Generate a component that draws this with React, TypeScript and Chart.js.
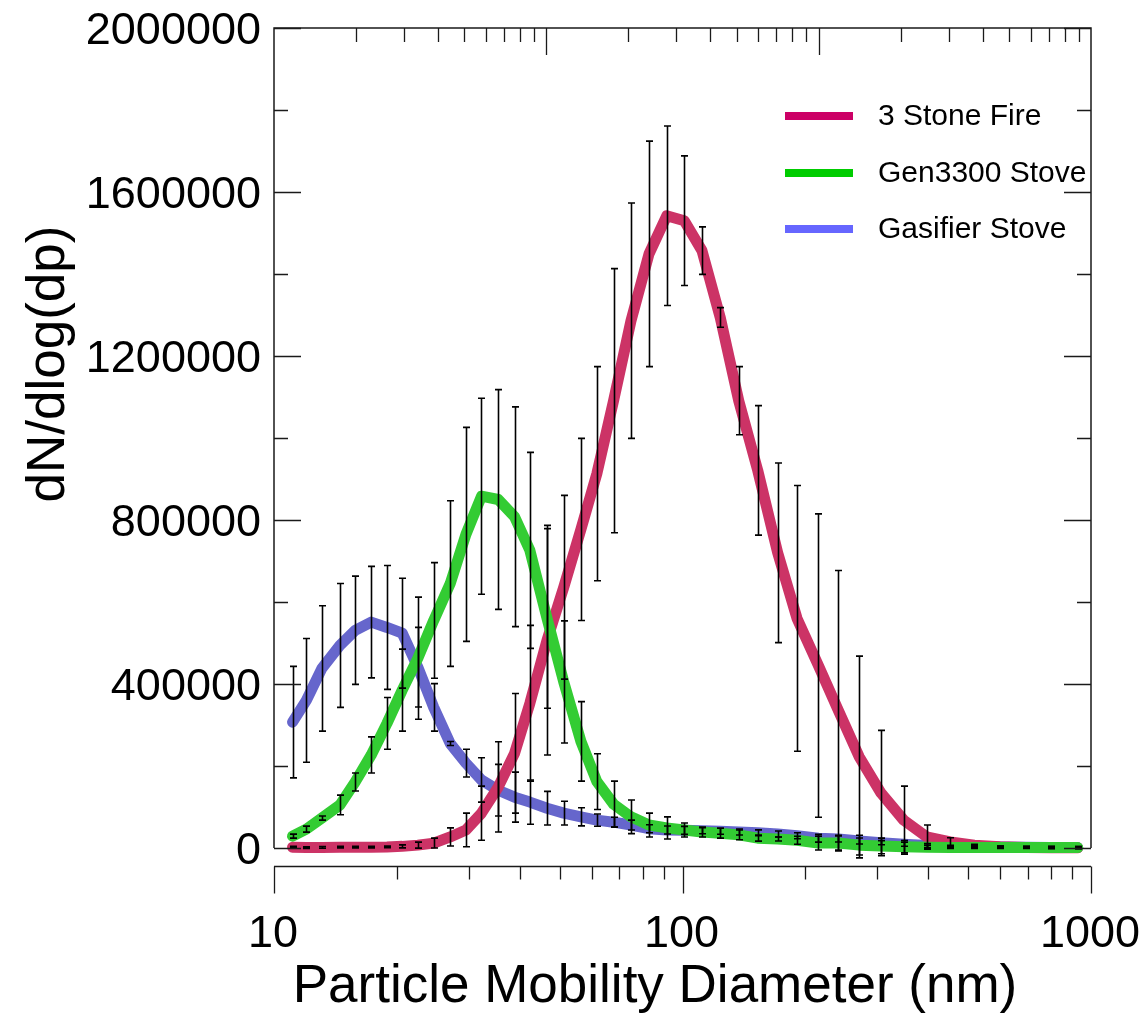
import React, { useEffect, useRef } from "react";
import { Chart, registerables } from "chart.js";

Chart.register(...registerables);

// Particle mobility diameters (nm)
const diameters = [
  11.1, 12.0, 13.1, 14.5, 15.8, 17.3, 18.9, 20.6, 22.5, 24.6, 27.0, 29.5, 32.2, 35.4, 38.8,
  42.3, 46.6, 51.2, 56.4, 61.7, 67.8, 74.8, 82.8, 91.5, 101.0, 111.6, 123.7, 137.3, 152.8,
  171.0, 190.7, 215.1, 240.6, 270.9, 306.2, 347.9, 396.1, 452.5, 518.0, 598.7, 693.3, 798.1, 927.7,
];

// 3 Stone Fire
const stoneFire = [
  2000, 1000, 1500, 2000, 2000, 2000, 2500, 4000, 7000, 12000, 27000, 44000, 85000, 149000, 231000,
  353000, 507000, 636000, 777000, 913000, 1091000, 1286000, 1449000, 1542000, 1530000, 1457000,
  1294000, 1091000, 921000, 720000, 560000, 445000, 336000, 222000, 134000, 68000, 27000, 15000,
  7000, 3000, 1500, 800, 500,
];
const stoneFireErr = [
  2000, 2000, 2000, 2000, 2000, 2000, 2000, 3700, 7300, 12000, 22000, 41000, 66000, 110000, 146000,
  190000, 280000, 224000, 222000, 261000, 322000, 287000, 275000, 219000, 158000, 58000, 24000,
  83000, 158000, 219000, 324000, 370000, 341000, 246000, 153000, 83000, 29000, 10000, 2000, 2000,
  2000, 2000, 2000,
];

// Gen3300 Stove
const gen3300 = [
  29000, 46000, 73000, 105000, 161000, 227000, 304000, 385000, 463000, 555000, 645000, 765000,
  858000, 850000, 808000, 726000, 560000, 405000, 260000, 162000, 107000, 76000, 56000, 49000,
  44000, 39000, 36000, 32000, 24000, 22000, 19000, 12000, 12000, 7000, 5000, 3000, 2000, 1500,
  1000, 1000, 1000, 1000, 1000,
];
const gen3300Err = [
  4900, 7300, 4900, 24000, 22000, 44000, 63000, 100000, 149000, 141000, 202000, 261000, 239000,
  268000, 268000, 239000, 219000, 149000, 97000, 68000, 56000, 41000, 29000, 27000, 17000, 12000,
  12000, 12000, 7300, 4900, 9700, 17000, 19000, 24000, 19000, 15000, 4900, 2400, 2400, 2400, 2400,
  2400, 2400,
];

// Gasifier Stove
const gasifier = [
  307000, 360000, 438000, 494000, 531000, 551000, 538000, 524000, 441000, 343000, 255000, 207000,
  166000, 141000, 124000, 112000, 97000, 85000, 76000, 68000, 63000, 56000, 47000, 44000, 43000,
  42000, 41000, 39000, 37000, 34000, 30000, 24000, 22000, 17000, 13000, 9000, 6000, 4000, 3000,
  2500, 2000, 1500, 1000,
];
const gasifierErr = [
  136000, 151000, 153000, 151000, 132000, 136000, 151000, 134000, 97000, 58000, 4900, 34000, 54000,
  63000, 61000, 54000, 41000, 29000, 22000, 15000, 12000, 12000, 9700, 9700, 9700, 7300, 7300, 7300,
  7300, 7300, 7300, 9700, 7300, 7300, 4900, 4900, 4900, 2400, 2400, 2400, 2400, 2400, 2400,
];

const seriesNames = ["3 Stone Fire", "Gen3300 Stove", "Gasifier Stove"];
const yTickValues = [0, 400000, 800000, 1200000, 1600000, 2000000];
const xTickLabels = [10, 100, 1000];
const xTitle = "Particle Mobility Diameter (nm)";
const yTitle = "dN/dlog(dp)";

const lineColors = ["#cc3366", "#33cc33", "#6666cc"];
const legendColors = ["#cc0066", "#00cc00", "#6666ff"];

const FONT = '"Liberation Sans", Arial, Helvetica, sans-serif';

export default function App() {
  const ref = useRef<HTMLCanvasElement>(null);

  useEffect(() => {
    const canvas = ref.current!;
    const values = [stoneFire, gen3300, gasifier];
    const errors = [stoneFireErr, gen3300Err, gasifierErr];
    const orders = [2, 1, 3];

    const customPlugin = {
      id: "customAxes",
      afterDatasetsDraw(chart: any) {
        const { ctx, scales } = chart;
        const x = scales.x;
        const y = scales.y;
        ctx.save();
        ctx.strokeStyle = "#000";
        ctx.lineWidth = 1.6;
        for (let s = 0; s < values.length; s++) {
          const vals = values[s];
          const errs = errors[s];
          for (let i = 0; i < diameters.length; i++) {
            const px = Math.round(x.getPixelForValue(diameters[i])) + 0.5;
            const top = y.getPixelForValue(vals[i] + errs[i]);
            const bot = y.getPixelForValue(vals[i] - errs[i]);
            ctx.beginPath();
            ctx.moveTo(px, top);
            ctx.lineTo(px, bot);
            ctx.moveTo(px - 3.5, top);
            ctx.lineTo(px + 3.5, top);
            ctx.moveTo(px - 3.5, bot);
            ctx.lineTo(px + 3.5, bot);
            ctx.stroke();
          }
        }
        ctx.restore();
      },
      afterDraw(chart: any) {
        const { ctx, chartArea: a, scales } = chart;
        const x = scales.x;
        const y = scales.y;
        const xTop = scales.xTop;
        ctx.save();
        ctx.strokeStyle = "#1a1a1a";
        ctx.lineWidth = 1.5;

        // frame: top, left, right
        ctx.beginPath();
        ctx.moveTo(a.left, a.bottom);
        ctx.lineTo(a.left, a.top);
        ctx.lineTo(a.right, a.top);
        ctx.lineTo(a.right, a.bottom);
        ctx.stroke();

        // y ticks (left and right, inward)
        ctx.lineWidth = 1.3;
        for (let v = 0; v <= 2000000; v += 200000) {
          const py = Math.round(y.getPixelForValue(v)) + 0.5;
          const major = v % 400000 === 0;
          const len = major ? 27 : 14;
          ctx.beginPath();
          ctx.moveTo(a.left, py);
          ctx.lineTo(a.left + len, py);
          ctx.moveTo(a.right, py);
          ctx.lineTo(a.right - len, py);
          ctx.stroke();
        }

        // top ticks (log 1..1000, inward)
        for (const dec of [1, 10, 100]) {
          for (let m = 1; m <= 9; m++) {
            const v = dec * m;
            if (v === 1) continue;
            const px = Math.round(xTop.getPixelForValue(v)) + 0.5;
            const len = m === 1 ? 27 : 14;
            ctx.beginPath();
            ctx.moveTo(px, a.top);
            ctx.lineTo(px, a.top + len);
            ctx.stroke();
          }
        }

        // bottom detached x axis
        const axisY = a.bottom + 18.5;
        const x0 = x.getPixelForValue(10);
        const x1 = x.getPixelForValue(1000);
        ctx.lineWidth = 1.5;
        ctx.beginPath();
        ctx.moveTo(x0, axisY);
        ctx.lineTo(x1, axisY);
        ctx.stroke();
        ctx.lineWidth = 1.3;
        for (const dec of [10, 100, 1000]) {
          for (let m = 1; m <= 9; m++) {
            const v = dec * m;
            if (v > 1000) break;
            const px = Math.round(x.getPixelForValue(v)) + 0.5;
            const len = m === 1 ? 27 : 13;
            ctx.beginPath();
            ctx.moveTo(px, axisY);
            ctx.lineTo(px, axisY + len);
            ctx.stroke();
          }
        }

        // tick labels
        ctx.fillStyle = "#000";
        ctx.font = `45px ${FONT}`;
        ctx.textAlign = "right";
        ctx.textBaseline = "alphabetic";
        for (const v of yTickValues) {
          const py = y.getPixelForValue(v);
          ctx.fillText(String(v), a.left - 13, py + 16);
        }
        ctx.textAlign = "center";
        for (const v of xTickLabels) {
          const px = x.getPixelForValue(v);
          ctx.fillText(String(v), px - 1, 947);
        }

        // axis titles
        ctx.font = `53px ${FONT}`;
        ctx.textAlign = "center";
        ctx.fillText(xTitle, 655, 1002);
        ctx.save();
        ctx.translate(64, 364);
        ctx.rotate(-Math.PI / 2);
        ctx.fillText(yTitle, 0, 0);
        ctx.restore();

        // legend
        const legendY = [116, 173, 229];
        ctx.font = `30px ${FONT}`;
        ctx.textAlign = "left";
        ctx.textBaseline = "middle";
        for (let i = 0; i < seriesNames.length; i++) {
          ctx.strokeStyle = legendColors[i];
          ctx.lineWidth = 8;
          ctx.lineCap = "butt";
          ctx.beginPath();
          ctx.moveTo(785, legendY[i]);
          ctx.lineTo(853, legendY[i]);
          ctx.stroke();
          ctx.fillStyle = "#000";
          ctx.fillText(seriesNames[i], 878, legendY[i] + 1);
        }
        ctx.restore();
      },
    };

    const chart = new Chart(canvas, {
      type: "line",
      data: {
        datasets: values.map((vals, s) => ({
          label: seriesNames[s],
          data: diameters.map((d, i) => ({ x: d, y: vals[i] })),
          borderColor: lineColors[s],
          backgroundColor: lineColors[s],
          borderWidth: 11,
          pointRadius: 0,
          fill: false,
          tension: 0,
          borderCapStyle: "round",
          borderJoinStyle: "round",
          clip: false,
          order: orders[s],
        })),
      },
      options: {
        responsive: false,
        animation: false,
        devicePixelRatio: 1,
        layout: { padding: { left: 274, top: 28, right: 53, bottom: 165 } },
        plugins: { legend: { display: false }, tooltip: { enabled: false } },
        scales: {
          x: { type: "logarithmic", min: 10, max: 1000, display: false },
          xTop: { type: "logarithmic", min: 1, max: 1000, display: false, position: "top" },
          y: { type: "linear", min: 0, max: 2000000, display: false },
        },
      } as any,
      plugins: [customPlugin],
    });
    return () => chart.destroy();
  }, []);

  return (
    <div style={{ position: "absolute", left: 0, top: 0, width: 1144, height: 1013, background: "#fff" }}>
      <canvas ref={ref} width={1144} height={1013} style={{ display: "block" }} />
    </div>
  );
}
